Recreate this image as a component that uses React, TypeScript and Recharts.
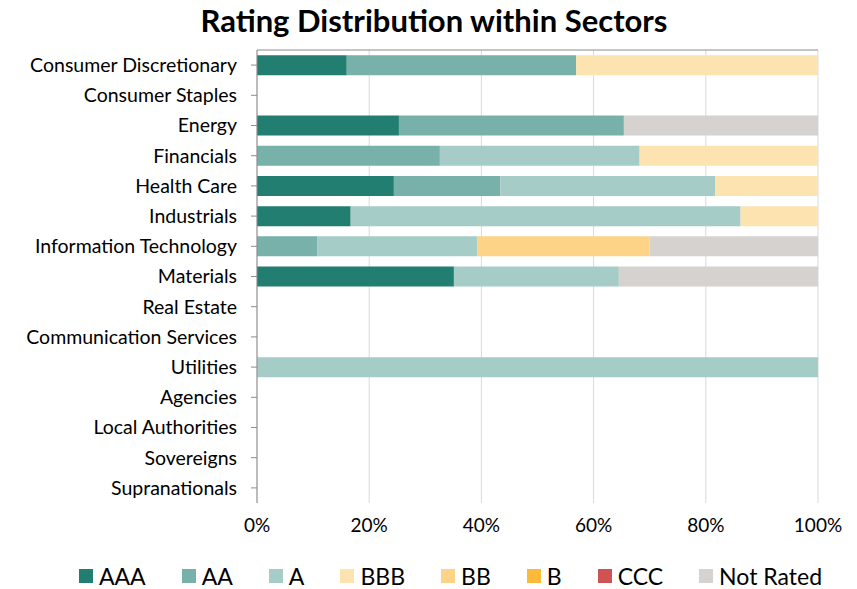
import { Bar, BarChart, CartesianGrid, XAxis, YAxis } from "recharts";

const sectors = [
  "Consumer Discretionary",
  "Consumer Staples",
  "Energy",
  "Financials",
  "Health Care",
  "Industrials",
  "Information Technology",
  "Materials",
  "Real Estate",
  "Communication Services",
  "Utilities",
  "Agencies",
  "Local Authorities",
  "Sovereigns",
  "Supranationals",
];

// percentage share of each rating per sector
const aaa = [16.0, 0, 25.3, 0, 24.4, 16.7, 0, 35.1, 0, 0, 0, 0, 0, 0, 0];
const aa = [40.9, 0, 40.1, 32.6, 19.0, 0, 10.8, 0, 0, 0, 0, 0, 0, 0, 0];
const a = [0, 0, 0, 35.6, 38.3, 69.5, 28.5, 29.4, 0, 0, 100, 0, 0, 0, 0];
const bbb = [43.1, 0, 0, 31.8, 18.3, 13.8, 0, 0, 0, 0, 0, 0, 0, 0, 0];
const bb = [0, 0, 0, 0, 0, 0, 30.7, 0, 0, 0, 0, 0, 0, 0, 0];
const b = [0, 0, 0, 0, 0, 0, 0, 0, 0, 0, 0, 0, 0, 0, 0];
const ccc = [0, 0, 0, 0, 0, 0, 0, 0, 0, 0, 0, 0, 0, 0, 0];
const notRated = [0, 0, 34.6, 0, 0, 0, 30.0, 35.5, 0, 0, 0, 0, 0, 0, 0];

const xTicks = [0, 20, 40, 60, 80, 100];

const series = [
  { key: "AAA", values: aaa, color: "#227E71" },
  { key: "AA", values: aa, color: "#78B1AA" },
  { key: "A", values: a, color: "#A5CCC7" },
  { key: "BBB", values: bbb, color: "#FDE3B0" },
  { key: "BB", values: bb, color: "#FDD487" },
  { key: "B", values: b, color: "#FDB93A" },
  { key: "CCC", values: ccc, color: "#D05353" },
  { key: "Not Rated", values: notRated, color: "#D6D2CF" },
];

const data = sectors.map((name, i) => {
  const row: Record<string, string | number> = { name };
  series.forEach((s) => {
    row[s.key] = s.values[i];
  });
  return row;
});

const FONT = "Lato, 'Open Sans', sans-serif";

export default function App() {
  return (
    <div
      style={{
        position: "absolute",
        left: 0,
        top: 0,
        width: 857,
        height: 589,
        background: "#fff",
        fontFamily: FONT,
      }}
    >
      <div
        style={{
          position: "absolute",
          top: 1,
          left: 0,
          width: 868,
          textAlign: "center",
          fontSize: 31,
          fontWeight: 700,
          color: "#000",
        }}
      >
        Rating Distribution within Sectors
      </div>
      <BarChart
        width={857}
        height={589}
        data={data}
        layout="vertical"
        margin={{ top: 44, right: 39, bottom: 56, left: 0 }}
        barCategoryGap="17%"
      >
        <CartesianGrid horizontal={false} stroke="#D9D9D9" />
        <XAxis
          xAxisId="top"
          orientation="top"
          type="number"
          domain={[0, 100]}
          ticks={xTicks}
          height={6}
          tickSize={6}
          stroke="#8C8C8C"
          tick={() => <g />}
        />
        <XAxis
          type="number"
          domain={[0, 100]}
          ticks={xTicks}
          height={30}
          axisLine={false}
          tickLine={false}
          tickMargin={10}
          tickFormatter={(v) => `${v}%`}
          tick={{ fill: "#000", fontSize: 19, fontFamily: FONT }}
        />
        <YAxis
          type="category"
          dataKey="name"
          width={257}
          tickSize={6}
          tickMargin={14}
          stroke="#8C8C8C"
          interval={0}
          tick={{ fill: "#000", fontSize: 19.5, fontFamily: FONT }}
        />
        {series.map((s) => (
          <Bar
            key={s.key}
            dataKey={s.key}
            stackId="r"
            fill={s.color}
            isAnimationActive={false}
          />
        ))}
      </BarChart>
      <div
        style={{
          position: "absolute",
          top: 562,
          left: 0,
          width: 857,
          display: "flex",
          justifyContent: "center",
          gap: 36,
          fontSize: 23,
          color: "#000",
          paddingLeft: 44,
          boxSizing: "border-box",
        }}
      >
        {series.map((s) => (
          <div key={s.key} style={{ display: "flex", alignItems: "center", gap: 6 }}>
            <span style={{ width: 14, height: 14, background: s.color, display: "inline-block" }} />
            <span>{s.key}</span>
          </div>
        ))}
      </div>
    </div>
  );
}
